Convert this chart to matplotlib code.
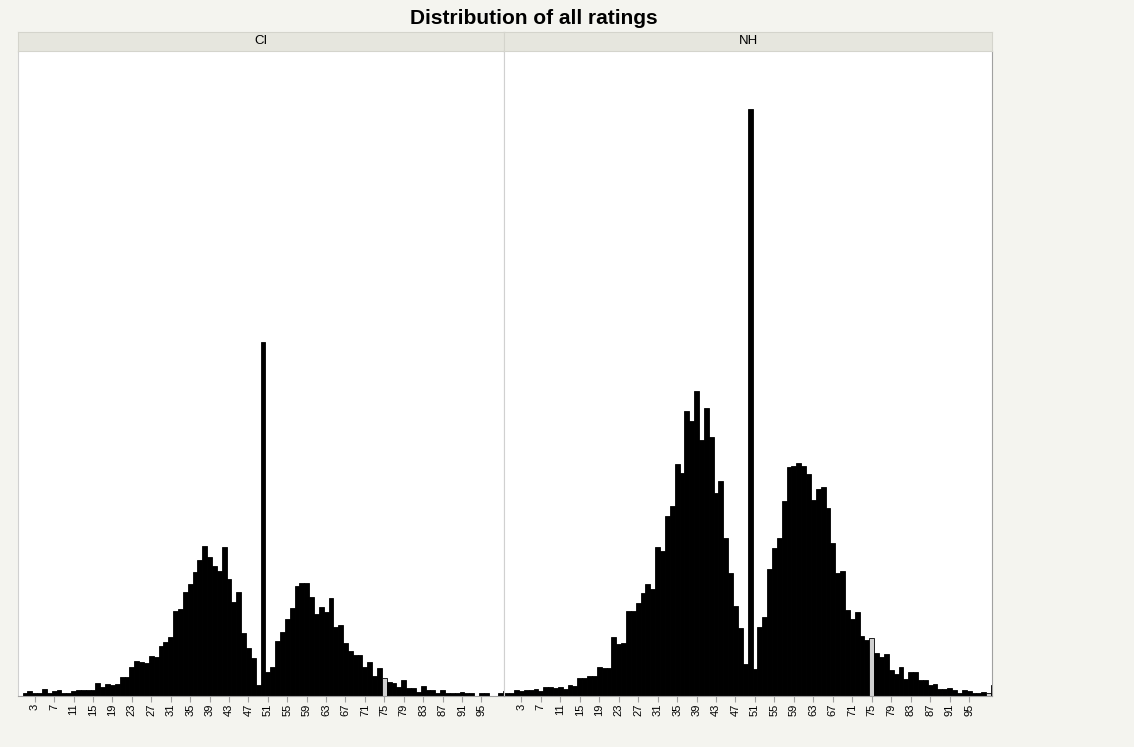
import numpy as np
import matplotlib.pyplot as plt

plt.rcParams['font.family'] = ['Liberation Sans', 'DejaVu Sans']

# rating values 0..100 and bar heights (counts) for each panel
ratings = np.arange(0, 101)

ci_counts = [
    0, 2.5, 4.5, 2.5, 2.5, 6.5, 2.5, 4.5, 5.5, 2.5,
    3, 4.5, 5.5, 5.5, 5.5, 5.5, 13, 9, 11.5, 10.5,
    11.5, 19, 19, 29, 35, 34, 32.5, 40, 39, 50,
    54, 58.5, 85, 87, 104, 112, 124, 136, 150, 139,
    130, 125, 149, 117, 94, 104, 63, 48, 38, 11,
    354, 24, 29, 55, 64, 77, 88, 110, 113, 113,
    99, 82, 89, 84, 98, 69, 71, 53, 45, 41,
    41, 29, 34, 20, 28, 18, 14, 13, 9, 16,
    8, 8, 4, 10, 6, 6, 3, 6, 3, 3,
    3, 4, 3, 3, 0, 3, 3, 0, 0, 3,
    5]

nh_counts = [
    3, 3, 5.3, 4.7, 5.7, 5.7, 6.7, 4.3, 9, 8.3,
    7.7, 9, 7, 10.7, 9.3, 17.7, 17.7, 19.3, 19.3, 29,
    27.7, 27.7, 58.5, 51.5, 52.5, 84.5, 84.5, 93, 103, 111.5,
    106.5, 149, 145, 180, 190, 232, 223, 285, 275, 305,
    256, 288, 259, 203, 215, 158, 123, 90, 68, 32,
    587, 27, 69, 79, 127, 148, 158, 195, 229, 230,
    233, 230, 222, 196, 207, 209, 188, 153, 123, 125,
    86, 77, 84, 60, 56, 58, 43, 39, 42, 26,
    21.5, 29, 17, 24, 24, 16, 16, 10.5, 11.5, 7,
    7, 8, 5.5, 3, 5.5, 4.5, 3, 3, 4, 3,
    11]

panels = ['CI', 'NH']
highlight = {'CI': [75], 'NH': [75, 99]}
tick_values = list(range(3, 96, 4))

W, H = 1134, 747
bg = '#f4f4ef'
fig = plt.figure(figsize=(W / 100, H / 100), dpi=100, facecolor=bg)

fig.text(534 / W, 1 - 18 / H, 'Distribution of all ratings', ha='center', va='center',
         fontsize=15, fontweight='bold', color='black')

lefts = [17.7, 504.3]
rights = [504.3, 992]
y_top, y_bot = 51, 695.5
strip_top = 32

for name, counts, l, r in zip(panels, [ci_counts, nh_counts], lefts, rights):
    ax = fig.add_axes([l / W, 1 - y_bot / H, (r - l) / W, (y_bot - y_top) / H])
    ax.set_facecolor('white')
    colors = ['#d0d0d0' if v in highlight[name] else 'black' for v in ratings]
    ax.bar(ratings, counts, width=1.0, color=colors, edgecolor='black', linewidth=0.6)
    ax.set_xlim(-0.5, 99.7)
    ax.set_ylim(0, y_bot - y_top)
    ax.set_yticks([])
    ax.set_xticks(tick_values)
    ax.set_xticklabels([str(t) for t in tick_values], rotation=90, fontsize=8)
    ax.tick_params(axis='x', length=4, color='#a0a0a0', pad=2)
    for s in ['left', 'right']:
        ax.spines[s].set_color('#d0d0d0')
        ax.spines[s].set_linewidth(0.8)
    ax.spines['top'].set_visible(False)
    ax.spines['bottom'].set_color('#a0a0a0')
    if name == 'NH':
        ax.spines['right'].set_color('#a0a0a0')

    sax = fig.add_axes([l / W, 1 - y_top / H, (r - l) / W, (y_top - strip_top) / H])
    sax.set_facecolor('#e6e6de')
    sax.set_xticks([])
    sax.set_yticks([])
    for s in sax.spines.values():
        s.set_color('#d4d4cc')
        s.set_linewidth(0.8)
    sax.text(0.5, 0.5, name, ha='center', va='center', fontsize=9.5, transform=sax.transAxes)

fig.savefig('out.png', dpi=100, facecolor=bg)
